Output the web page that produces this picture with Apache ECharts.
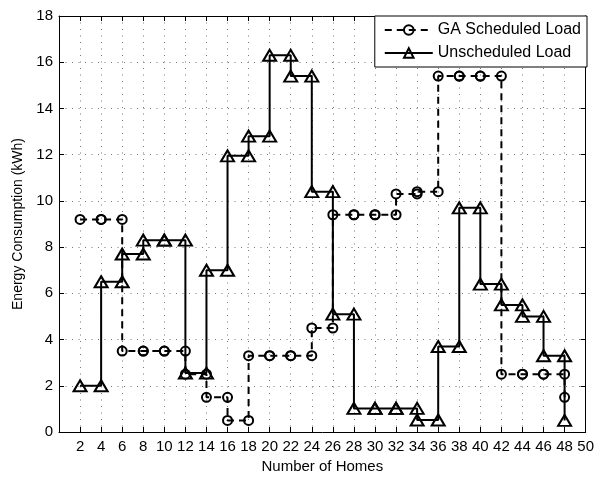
<!DOCTYPE html>
<html>
<head>
<meta charset="utf-8">
<script src="https://cdn.jsdelivr.net/npm/echarts@6/dist/echarts.min.js"></script>
<style>
html,body{margin:0;padding:0;background:#fff;}
#chart{width:597px;height:479px;}
</style>
</head>
<body>
<div id="chart"></div>
<script>
// Data (stairs plot, one value per step start)
const homes = [2,4,6,8,10,12,14,16,18,20,22,24,26,28,30,32,34,36,38,40,42,44,46,48];
const gaScheduled = [9.2,9.2,3.5,3.5,3.5,2.5,1.5,0.5,3.3,3.3,3.3,4.5,9.4,9.4,9.4,10.3,10.4,15.4,15.4,15.4,2.5,2.5,2.5,1.5];
const unscheduled = [2.0,6.5,7.7,8.3,8.3,2.55,7.0,11.95,12.8,16.3,15.4,10.4,5.1,1.02,1.02,1.02,0.52,3.7,9.7,6.4,5.5,5.0,3.3,0.5];
const xTicks = [2,4,6,8,10,12,14,16,18,20,22,24,26,28,30,32,34,36,38,40,42,44,46,48,50];
const seriesNames = ['GA Scheduled Load','Unscheduled Load'];

// MATLAB-style stairs: vertices at every corner
function stairs(xs, ys){
  const pts = [];
  for (let i = 0; i < xs.length; i++){
    pts.push([xs[i], ys[i]]);
    if (i < xs.length - 1) pts.push([xs[i+1], ys[i]]);
  }
  return pts;
}

const FONT = 'Liberation Sans, Arial, Helvetica, sans-serif';
const chart = echarts.init(document.getElementById('chart'), null, {renderer:'canvas'});
const gridLine = {show:true, lineStyle:{color:'#777', type:[1,5.5], width:1}};
const tickStyle = {show:true, inside:true, length:5, lineStyle:{color:'#000', width:1}};

chart.setOption({
  animation:false,
  backgroundColor:'#fff',
  grid:{left:59, right:10, top:16, bottom:47, containLabel:false},
  legend:{
    orient:'vertical', right:10, top:16,
    backgroundColor:'#fff', borderColor:'#000', borderWidth:1, borderRadius:0,
    padding:[6,6,6,9], itemGap:7, itemWidth:48, itemHeight:12,
    textStyle:{fontFamily:FONT, fontSize:16, color:'#000'},
    data: seriesNames
  },
  xAxis:[{
    type:'value', min:0, max:50, interval:2, position:'bottom',
    name:'Number of Homes', nameLocation:'middle', nameGap:27,
    nameTextStyle:{fontFamily:FONT, fontSize:15, color:'#000'},
    axisLine:{show:true, onZero:false, lineStyle:{color:'#000', width:1}},
    axisTick:tickStyle,
    axisLabel:{fontFamily:FONT, fontSize:15, color:'#000', margin:7,
      formatter: v => (xTicks.indexOf(v) >= 0 ? String(v) : '')},
    splitLine:gridLine
  },{
    type:'value', min:0, max:50, interval:2, position:'top',
    axisLine:{show:true, onZero:false, lineStyle:{color:'#000', width:1}},
    axisTick:tickStyle, axisLabel:{show:false}, splitLine:{show:false}
  }],
  yAxis:[{
    type:'value', min:0, max:18, interval:2, position:'left',
    name:'Energy Consumption (kWh)', nameLocation:'middle', nameGap:31,
    nameTextStyle:{fontFamily:FONT, fontSize:14, color:'#000'},
    axisLine:{show:true, onZero:false, lineStyle:{color:'#000', width:1}},
    axisTick:tickStyle,
    axisLabel:{fontFamily:FONT, fontSize:15, color:'#000', margin:6},
    splitLine:gridLine
  },{
    type:'value', min:0, max:18, interval:2, position:'right',
    axisLine:{show:true, onZero:false, lineStyle:{color:'#000', width:1}},
    axisTick:tickStyle, axisLabel:{show:false}, splitLine:{show:false}
  }],
  series:[{
    name:seriesNames[0], type:'line', data:stairs(homes, gaScheduled),
    symbol:'circle', symbolSize:9, showAllSymbol:true,
    lineStyle:{color:'#000', width:2, type:[7,5]},
    itemStyle:{color:'rgba(255,255,255,0)', borderColor:'#000', borderWidth:2},
    emphasis:{disabled:true}, z:2
  },{
    name:seriesNames[1], type:'line', data:stairs(homes, unscheduled),
    symbol:'triangle', symbolSize:[13,11], showAllSymbol:true,
    lineStyle:{color:'#000', width:2, type:'solid'},
    itemStyle:{color:'rgba(255,255,255,0)', borderColor:'#000', borderWidth:2},
    emphasis:{disabled:true}, z:3
  }]
});
</script>
</body>
</html>
